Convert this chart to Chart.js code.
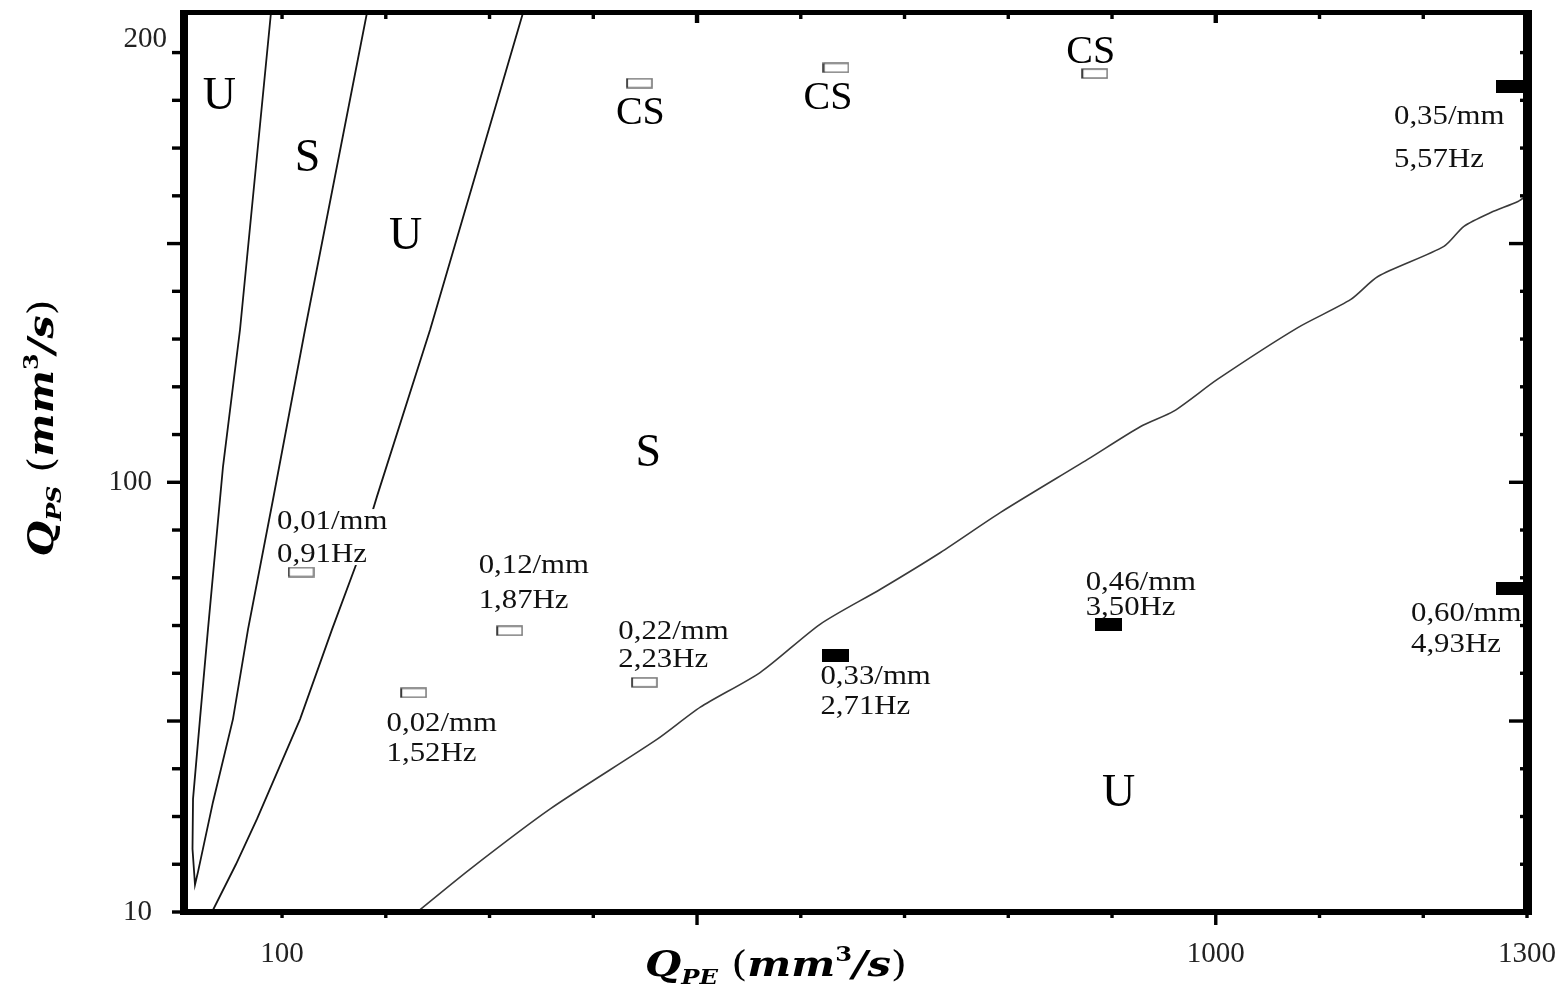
<!DOCTYPE html>
<html>
<head>
<meta charset="utf-8">
<script src="https://cdn.jsdelivr.net/npm/chart.js@4.4.1/dist/chart.umd.min.js"></script>
<style>
  html, body { margin: 0; padding: 0; background: #fff; }
  canvas { display: block; }
</style>
</head>
<body>
<canvas id="map" width="1555" height="987" style="width:1555px;height:987px"></canvas>
<script>
// ---- Regime boundaries in the (Q_PE, Q_PS) plane, mm^3/s ----
// narrow V-shaped loop near the origin (left arm down to the tip, right arm back up)
const loopQPE = [89.4, 59.5, 43.1, 28.6, 20.9, 14.2, 13.7, 16.1, 19.0, 33.4, 52.7, 67.2, 91.3, 122.2, 182.0];
const loopQPS = [198.5, 132.0, 103.3, 69.2, 50.4, 33.7, 23.2, 15.7, 18.4, 33.0, 50.4, 69.2, 96.4, 132.0, 198.5];
// middle boundary
const midQPE = [332.5, 242.8, 191.6, 172.3, 148.2, 117.4, 75.9, 55.6, 32.5];
const midQPS = [198.5, 132.0, 97.1, 83.3, 69.2, 50.4, 29.5, 20.0, 10.0];
// lower boundary
const lowQPE = [230.2, 281.3, 358.5, 461.7, 503.2, 561.1, 618.9, 676.8, 734.7, 792.6, 876.5, 927.6, 959.5, 1001.9, 1079.1, 1130.2, 1156.3, 1219.9, 1239.2, 1265.2, 1291.3, 1300.0];
const lowQPS = [10.0, 19.0, 31.6, 46.2, 52.9, 60.2, 70.3, 77.6, 85.3, 93.7, 104.8, 111.7, 114.9, 121.6, 132.4, 138.3, 143.1, 149.4, 153.6, 156.5, 158.8, 160.1];

// ---- Measured runs ----
const runQPE = [118.3, 319.4, 226.8, 449.2, 633.4, 896.8, 1283.6, 1283.6];
const runQPS = [81.2, 68.9, 55.9, 58.1, 63.8, 70.2, 77.7, 182.8];
const runUnstable = [false, false, false, false, true, true, true, true];
const runWavenumber = ['0,01/mm', '0,12/mm', '0,02/mm', '0,22/mm', '0,33/mm', '0,46/mm', '0,60/mm', '0,35/mm'];
const runFrequency = ['0,91Hz', '1,87Hz', '1,52Hz', '2,23Hz', '2,71Hz', '3,50Hz', '4,93Hz', '5,57Hz'];

// runs in the CS regime
const csQPE = [444.4, 633.9, 883.3];
const csQPS = [183.6, 186.8, 185.6];

// regime names
const regionText = ['U', 'S', 'U', 'S', 'U'];
const regionQPE = [39.7, 124.6, 219.1, 453.0, 906.4];
const regionQPS = [181.4, 168.4, 152.1, 106.5, 35.3];

// axis ticks
const qpeTicks = [100, 200, 300, 400, 500, 600, 700, 800, 900, 1000, 1100, 1200, 1300];
const qpeTickLabels = [100, 1000, 1300];
const qpsTicks = [10, 20, 30, 40, 50, 60, 70, 80, 90, 100, 110, 120, 130, 140, 150, 160, 170, 180, 190];
const qpsTickLabels = [10, 100];
const qpsTopLabel = '200';

// ---- layout of the annotations (pixel offsets from each run marker) ----
// [dx to text start, baseline of line 1, baseline of line 2]
const runLabelLayout = [
  [-24, -43, -10], [-31, -58, -23], [-27, 38, 68], [-26, -43, -15],
  [-15, 29, 59], [-23, -35, -10], [-99, 32, 63], [-116, 37, 80]
];
// [dx, dy] of the centre of each "CS" tag
const csLabelLayout = [[1, 27.5], [-8, 28.5], [-4, -24]];

const SERIF = '"Liberation Serif", "Times New Roman", serif';
const MATH = '"DejaVu Serif", serif';

function pts(xs, ys) { return xs.map((v, i) => ({ x: v, y: ys[i] })); }

function rectSprite(w, h, filled) {
  const c = document.createElement('canvas');
  c.width = w; c.height = h;
  const g = c.getContext('2d');
  if (filled) {
    g.fillStyle = '#000';
    g.fillRect(0, 0, w, h);
  } else {
    g.fillStyle = '#fff';
    g.fillRect(0, 0, w, h);
    g.strokeStyle = '#7a7a7a';
    g.lineWidth = 1.6;
    g.strokeRect(1, 1, w - 2, h - 2);
    g.fillStyle = '#333';
    g.fillRect(0.5, 1, 1.6, h - 2);
  }
  return c;
}
const openRect = rectSprite(27, 11, false);
const solidRect = rectSprite(27, 13, true);

function stretchText(ctx, s, x, y, sx, align) {
  ctx.save();
  ctx.translate(x, y);
  ctx.scale(sx, 1);
  ctx.textAlign = align || 'left';
  ctx.fillText(s, 0, 0);
  ctx.restore();
}

function titleParts(sub) {
  return [
    { t: 'Q', f: 'bold italic 36px ' + MATH, dy: 0 },
    { t: sub, f: 'bold italic 21px ' + MATH, dy: 8 },
    { t: ' (', f: '36px ' + MATH, dy: 0 },
    { t: 'mm', f: 'bold italic 36px ' + MATH, dy: 0 },
    { t: '3', f: 'bold 21px ' + MATH, dy: -15 },
    { t: '/s', f: 'bold italic 36px ' + MATH, dy: 0 },
    { t: ')', f: '36px ' + MATH, dy: 0 }
  ];
}

function drawTitle(ctx, sub, cx, cy, targetW, angle) {
  const parts = titleParts(sub);
  let w = 0;
  parts.forEach(p => { ctx.font = p.f; p.w = ctx.measureText(p.t).width; w += p.w; });
  ctx.save();
  ctx.translate(cx, cy);
  ctx.rotate(angle);
  ctx.scale(targetW / w, 1);
  ctx.fillStyle = '#000';
  ctx.textBaseline = 'alphabetic';
  ctx.textAlign = 'left';
  let x = -w / 2;
  parts.forEach(p => { ctx.font = p.f; ctx.fillText(p.t, x, p.dy); x += p.w; });
  ctx.restore();
}

function noPadding(s) {
  s.paddingLeft = 0; s.paddingRight = 0; s.paddingTop = 0; s.paddingBottom = 0;
}

const decor = {
  id: 'decor',
  afterDatasetsDraw(chart) {
    const { ctx, scales: { x, y } } = chart;
    ctx.save();
    ctx.textBaseline = 'alphabetic';
    // run annotations on a white ground
    const font = '28px ' + SERIF, sx = 1.1;
    runQPE.forEach((q, i) => {
      const px = x.getPixelForValue(q), py = y.getPixelForValue(runQPS[i]);
      const [dx, b1, b2] = runLabelLayout[i];
      ctx.font = font;
      const w = Math.max(ctx.measureText(runWavenumber[i]).width, ctx.measureText(runFrequency[i]).width) * sx;
      ctx.fillStyle = '#fff';
      ctx.fillRect(px + dx - 1, py + b1 - 20, w + 2, b2 - b1 + 23);
      ctx.fillStyle = '#111';
      stretchText(ctx, runWavenumber[i], px + dx, py + b1, sx);
      stretchText(ctx, runFrequency[i], px + dx, py + b2, sx);
    });
    // CS tags
    ctx.font = '40px ' + SERIF;
    ctx.fillStyle = '#000';
    csQPE.forEach((q, i) => {
      const px = x.getPixelForValue(q), py = y.getPixelForValue(csQPS[i]);
      const [dx, dy] = csLabelLayout[i];
      stretchText(ctx, 'CS', px + dx, py + dy + 13, 1.0, 'center');
    });
    // regime names
    ctx.font = '46px ' + SERIF;
    regionText.forEach((t, i) => {
      const px = x.getPixelForValue(regionQPE[i]), py = y.getPixelForValue(regionQPS[i]);
      stretchText(ctx, t, px, py + 15, 1.0, 'center');
    });
    ctx.restore();
  },
  afterDraw(chart) {
    const { ctx, chartArea: a, scales: { x, y } } = chart;
    ctx.save();
    ctx.fillStyle = '#000';
    // frame
    ctx.fillRect(a.left - 4, a.top - 2, 8, a.bottom - a.top + 5);
    ctx.fillRect(a.right - 4, a.top - 2, 9, a.bottom - a.top + 5);
    ctx.fillRect(a.left - 4, a.top - 2, a.right - a.left + 9, 5);
    ctx.fillRect(a.left - 4, a.bottom - 3, a.right - a.left + 9, 6);
    // tick marks: outward on the left and bottom, inward on the top and right
    x.ticks.forEach(t => {
      const px = x.getPixelForValue(t.value);
      const major = t.value % 500 === 0;
      ctx.fillRect(px - 1.7, a.bottom, 3.4, major ? 13 : 6);
      ctx.fillRect(px - (major ? 2.2 : 1.7), a.top, major ? 4.4 : 3.4, major ? 11 : 7);
    });
    y.ticks.forEach(t => {
      const py = y.getPixelForValue(t.value);
      const major = t.value % 50 === 0;
      const l = major ? 17 : 12;
      ctx.fillRect(a.left - l, py - 1.7, l, 3.4);
      const r = major ? 18 : 7;
      ctx.fillRect(a.right - r, py - 1.7, r, 3.4);
    });
    // label at the top end of the Q_PS axis
    ctx.font = '29px ' + SERIF;
    ctx.fillStyle = '#222';
    ctx.textAlign = 'right';
    ctx.textBaseline = 'alphabetic';
    ctx.fillText(qpsTopLabel, a.left - 17, a.top + 35);
    // axis titles
    drawTitle(ctx, 'PE', 776, 976, 262, 0);
    drawTitle(ctx, 'PS', 53, 428, 257, -Math.PI / 2);
    ctx.restore();
  }
};

new Chart(document.getElementById('map'), {
  type: 'scatter',
  data: {
    datasets: [
      { label: 'loop', data: pts(loopQPE, loopQPS), showLine: true, borderColor: '#151515', borderWidth: 1.8, pointRadius: 0, tension: 0 },
      { label: 'middle', data: pts(midQPE, midQPS), showLine: true, borderColor: '#151515', borderWidth: 1.8, pointRadius: 0, tension: 0 },
      { label: 'lower', data: pts(lowQPE, lowQPS), showLine: true, borderColor: '#3a3a3a', borderWidth: 1.6, pointRadius: 0, tension: 0.25 },
      {
        label: 'stable runs',
        data: pts(runQPE.filter((_, i) => !runUnstable[i]), runQPS.filter((_, i) => !runUnstable[i])),
        pointStyle: openRect, pointRadius: 6
      },
      {
        label: 'unstable runs',
        data: pts(runQPE.filter((_, i) => runUnstable[i]), runQPS.filter((_, i) => runUnstable[i])),
        pointStyle: solidRect, pointRadius: 6
      },
      { label: 'CS runs', data: pts(csQPE, csQPS), pointStyle: openRect, pointRadius: 6 }
    ]
  },
  options: {
    responsive: false,
    animation: false,
    devicePixelRatio: 1,
    layout: { padding: { top: 12, right: 28, left: 0, bottom: 0 } },
    plugins: { legend: { display: false }, tooltip: { enabled: false } },
    scales: {
      x: {
        type: 'linear', min: 5.5, max: 1300,
        grid: { display: false, drawTicks: false },
        border: { display: false },
        afterBuildTicks: s => { s.ticks = qpeTicks.map(v => ({ value: v })); },
        afterFit: s => { s.height = 75; noPadding(s); },
        ticks: {
          autoSkip: false, maxRotation: 0, padding: 25,
          color: '#222', font: { family: SERIF, size: 29 },
          callback: v => qpeTickLabels.includes(v) ? String(v) : ''
        }
      },
      y: {
        type: 'linear', min: 10, max: 198.5,
        grid: { display: false, drawTicks: false },
        border: { display: false },
        afterBuildTicks: s => { s.ticks = qpsTicks.map(v => ({ value: v })); },
        afterFit: s => { s.width = 184; noPadding(s); },
        ticks: {
          autoSkip: false, padding: 32,
          color: '#222', font: { family: SERIF, size: 29 },
          callback: v => qpsTickLabels.includes(v) ? String(v) : ''
        }
      }
    }
  },
  plugins: [decor]
});
</script>
</body>
</html>
